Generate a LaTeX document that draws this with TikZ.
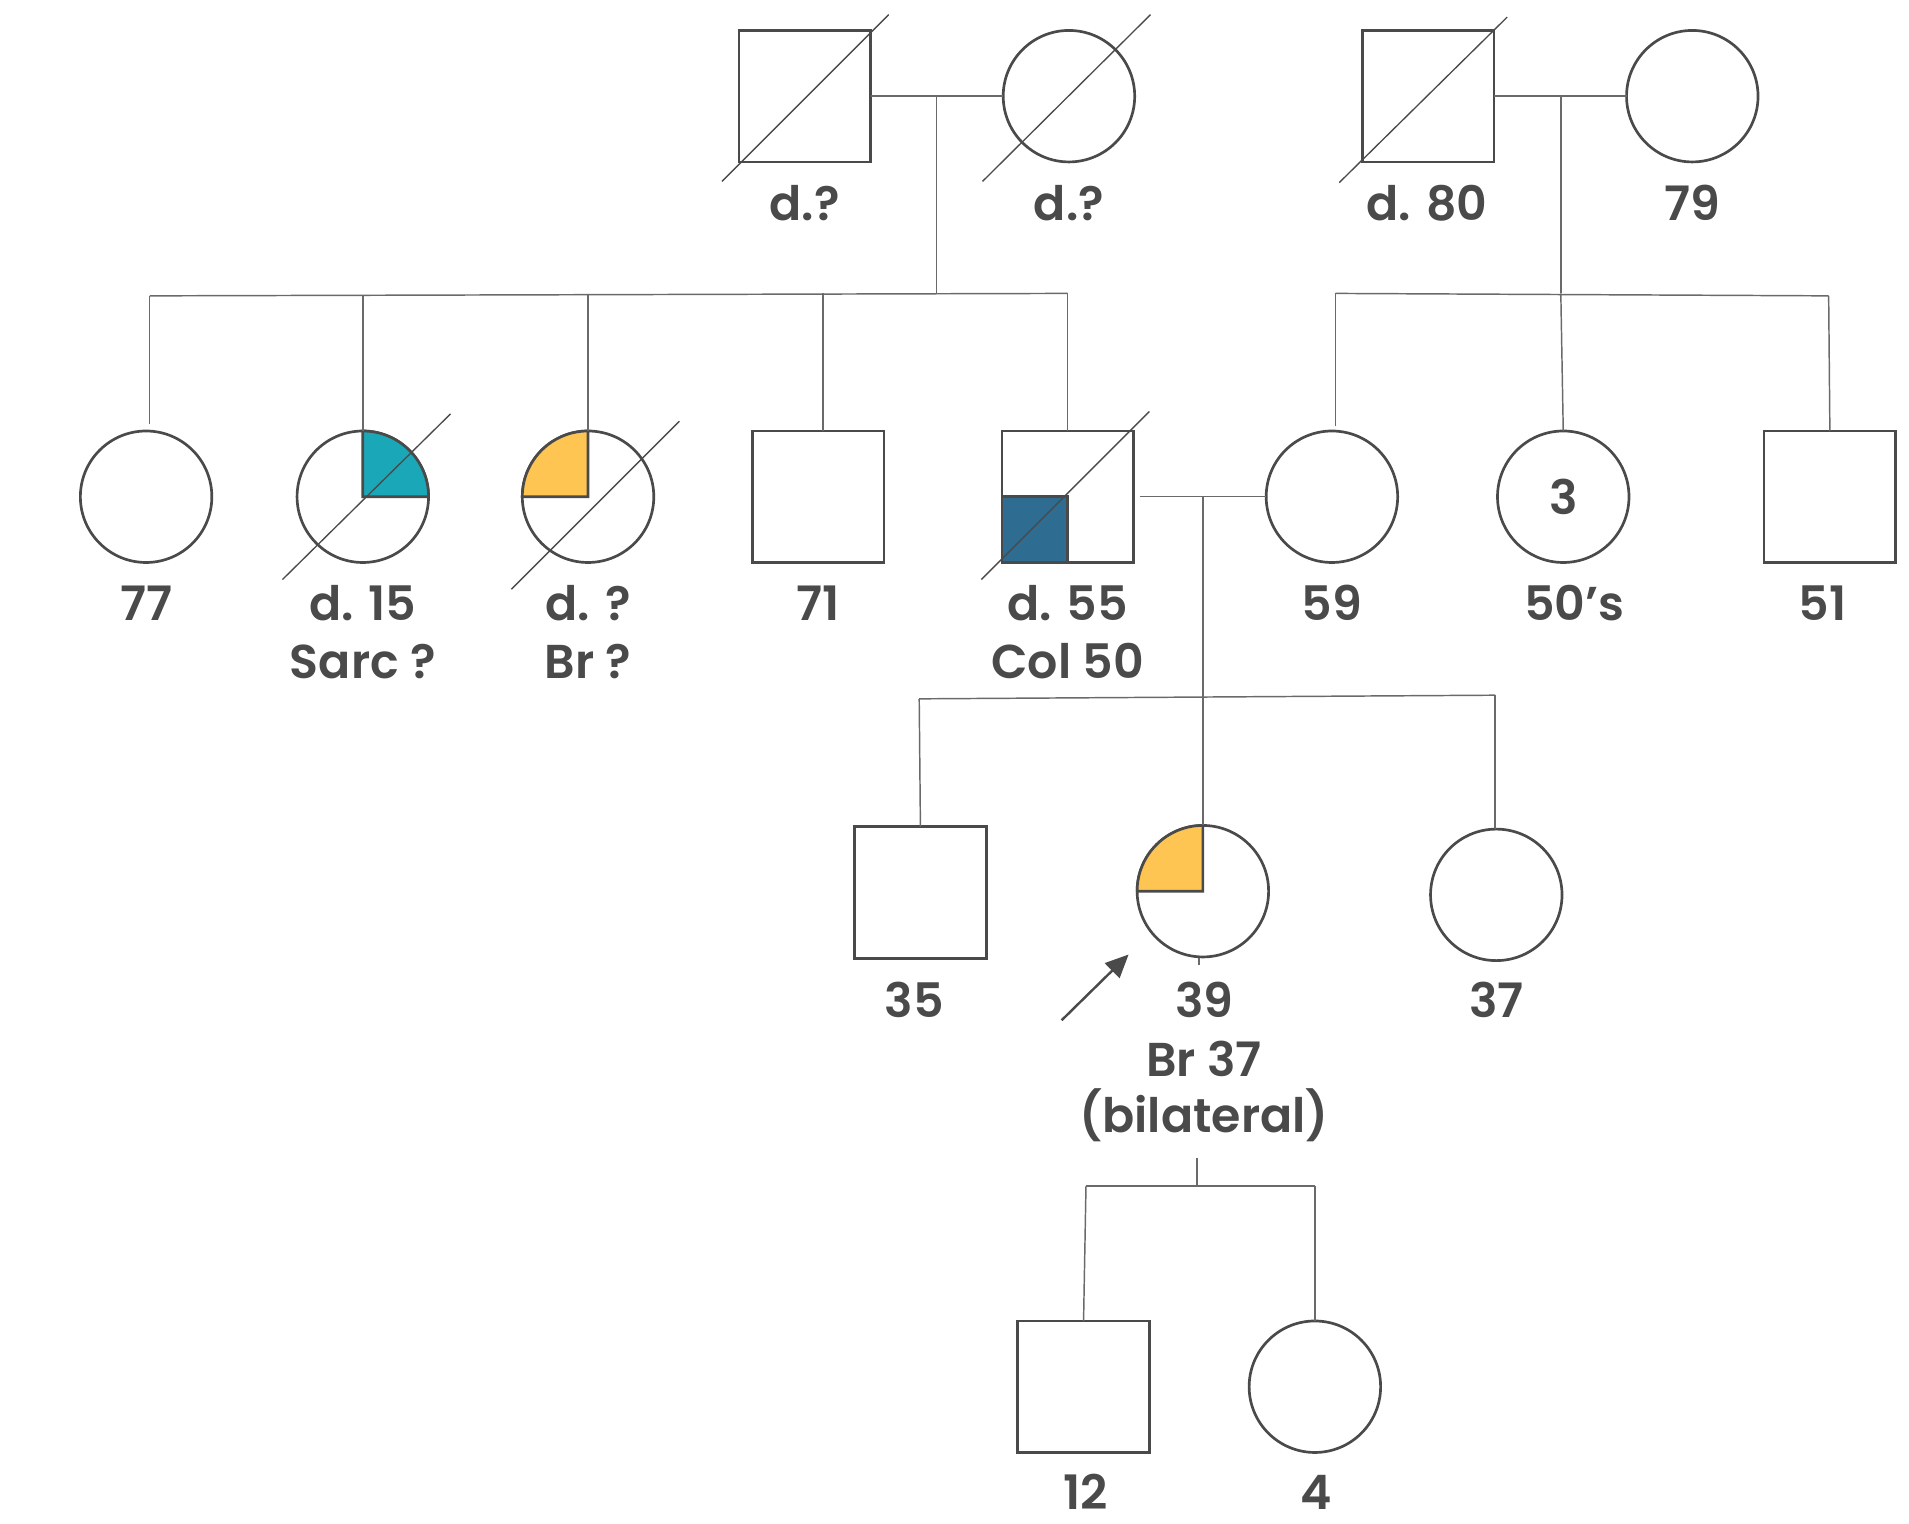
\documentclass[tikz,border=0pt]{standalone}
\usepackage{fontspec}
\setmainfont{Poppins}[UprightFont={* SemiBold}]
\usetikzlibrary{arrows.meta}
\definecolor{outl}{HTML}{4A4A4A}
\definecolor{connc}{HTML}{6A6A6A}
\definecolor{txtc}{HTML}{4A4A4A}
\definecolor{cteal}{HTML}{1AA8B8}
\definecolor{cyel}{HTML}{FEC553}
\definecolor{cblue}{HTML}{2E6D91}
\tikzset{
  male/.style={draw=outl, line width=2.2pt, rectangle, minimum size=108pt, inner sep=0pt, outer sep=0pt},
  fem/.style={draw=outl, line width=2.2pt, circle, minimum size=108pt, inner sep=0pt, outer sep=0pt},
  conn/.style={draw=connc, line width=1.2pt},
  slash/.style={draw=outl, line width=1.1pt},
  lbl/.style={text=txtc, anchor=base, inner sep=0pt, font=\fontsize{39}{47}\selectfont},
  quart/.style={draw=outl, line width=2.2pt}
}
\begin{document}
\begin{tikzpicture}[x=1pt,y=1pt]
\useasboundingbox (0,0) rectangle (1568,-1251);
% Generation I
\node[male] (m1) at (661,-79) {};
\node[fem]  (f1) at (878,-79) {};
\node[male] (m2) at (1173,-79) {};
\node[fem]  (f2) at (1390,-79) {};
% Generation II
\node[fem]  (c77) at (120,-408) {};
\node[fem]  (c15) at (298,-408) {};
\node[fem]  (cbr) at (483,-408) {};
\node[male] (s71) at (672,-408) {};
\node[male] (s55) at (877,-408) {};
\node[fem]  (c59) at (1094,-408) {};
\node[fem, text=txtc, font=\fontsize{39}{47}\selectfont] (c3) at (1284,-408) {3};
\node[male] (s51) at (1503,-408) {};
% Generation III
\node[male] (s35) at (756,-733) {};
\node[fem]  (c39) at (988,-732) {};
\node[fem]  (c37) at (1229,-735) {};
% Generation IV
\node[male] (s12) at (890,-1139) {};
\node[fem]  (c4)  at (1080,-1139) {};

% affected quarters
\filldraw[quart, fill=cteal] (c15.center) -- (c15.north) arc[start angle=90, end angle=0, radius=54pt] -- cycle;
\filldraw[quart, fill=cyel] (cbr.center) -- (cbr.north) arc[start angle=90, end angle=180, radius=54pt] -- cycle;
\filldraw[quart, fill=cyel] (c39.center) -- (c39.north) arc[start angle=90, end angle=180, radius=54pt] -- cycle;
\filldraw[quart, fill=cblue] (s55.center) rectangle (s55.south west);

% deceased slashes
\draw[slash] (m1.center) ++(-68,-70) -- ++(137,137);
\draw[slash] (f1.center) ++(-71,-70) -- ++(138,137);
\draw[slash] (m2.center) ++(-73,-71) -- ++(138,136);
\draw[slash] (c15.center) ++(-66,-68) -- ++(138,136);
\draw[slash] (cbr.center) ++(-63,-76) -- ++(138,138);
\draw[slash] (s55.center) ++(-71,-68) -- ++(138,138);

% joint coordinates
\coordinate (j1) at (769,-79);
\coordinate (k1) at (769,-241);
\coordinate (a1) at (123,-243);
\coordinate (a1e) at (123,-348);
\coordinate (a2) at (298,-242);
\coordinate (a3) at (483,-242);
\coordinate (a4) at (676,-241);
\coordinate (a4e) at (676,-354);
\coordinate (a5) at (877,-241);

\coordinate (j2) at (1282,-79);
\coordinate (k2) at (1282,-241);
\coordinate (b1) at (1097,-241);
\coordinate (b1e) at (1097,-350);
\coordinate (b3) at (1502,-243);

\coordinate (j3) at (988,-407);
\coordinate (k3) at (988,-572);
\coordinate (d1) at (755,-574);
\coordinate (d2) at (988,-572);
\coordinate (d3) at (1228,-571);
\coordinate (d3e) at (1228,-681);

\coordinate (j4) at (983,-951);
\coordinate (k4) at (983,-974);
\coordinate (e1) at (892,-974);
\coordinate (e2) at (1080,-974);

% connectors generation I -> II
\draw[conn] (m1.east) -- (f1.west);
\draw[conn] (j1) -- (k1);
\draw[conn] (a1) -- (a5);
\draw[conn] (a1) -- (a1e);
\draw[conn] (a2) -- (c15.north);
\draw[conn] (a3) -- (cbr.north);
\draw[conn] (a4) -- (a4e);
\draw[conn] (a5) -- (s55.north);

\draw[conn] (m2.east) -- (f2.west);
\draw[conn] (j2) -- (k2);
\draw[conn] (b1) -- (b3);
\draw[conn] (b1) -- (b1e);
\draw[conn] (k2) -- (c3.north);
\draw[conn] (b3) -- (s51.north);

% generation II -> III
\draw[conn] ([xshift=5pt]s55.east) -- (c59.west);
\draw[conn] (j3) -- (k3);
\draw[conn] (d1) -- (d3);
\draw[conn] (d1) -- (s35.north);
\draw[conn] (d2) -- (c39.north);
\draw[conn] (d3) -- (d3e);
\coordinate (t1) at (985,-787);
\coordinate (t2) at (985,-793);
\draw[conn] (t1) -- (t2);

% generation III -> IV
\draw[conn] (j4) -- (k4);
\draw[conn] (e1) -- (e2);
\draw[conn] (e1) -- (s12.north);
\draw[conn] (e2) -- (c4.north);

% proband arrow
\coordinate (ps) at (872,-838);
\coordinate (pe) at (927,-784);
\draw[draw=outl, line width=2pt, -{Triangle[length=19pt,width=17pt]}] (ps) -- (pe);

% labels
\node[lbl] (l1) at (661,-181) {d.?};
\node[lbl] (l2) at (878,-181) {d.?};
\node[lbl] (l3) at (1172,-181) {d. 80};
\node[lbl] (l4) at (1390,-181) {79};

\node[lbl] (l5) at (120,-510) {77};
\node[lbl] (l6) at (298,-510) {d. 15};
\node[lbl] (l6b) at (298,-557) {Sarc ?};
\node[lbl] (l7) at (483,-510) {d. ?};
\node[lbl] (l7b) at (483,-557) {Br ?};
\node[lbl] (l8) at (672,-510) {71};
\node[lbl] (l9) at (877,-510) {d. 55};
\node[lbl] (l9b) at (877,-557) {Col 50};
\node[lbl] (l10) at (1094,-510) {59};
\node[lbl] (l11) at (1293,-510) {50’s};
\node[lbl] (l12) at (1497,-510) {51};

\node[lbl] (l13) at (751,-836) {35};
\node[lbl] (l14) at (989,-836) {39};
\node[lbl] (l14b) at (989,-884) {Br 37};
\node[lbl] (l14c) at (989,-930) {(bilateral)};
\node[lbl] (l15) at (1229,-836) {37};

\node[lbl] (l16) at (892,-1240) {12};
\node[lbl] (l17) at (1081,-1240) {4};
\end{tikzpicture}
\end{document}
